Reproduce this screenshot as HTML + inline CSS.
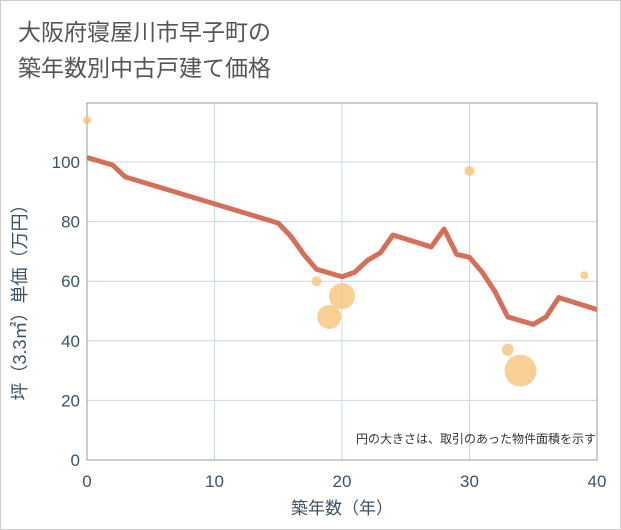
<!DOCTYPE html>
<html><head><meta charset="utf-8"><style>
body{margin:0;background:#fff;}
svg{display:block;font-family:"Liberation Sans","Noto Sans CJK JP",sans-serif;}
</style></head><body>
<svg id="c" width="621" height="530">
<rect x="0.5" y="0.5" width="620" height="529" fill="#fff" stroke="#ccc"/>
<text x="18" y="40" font-size="23" fill="#555">大阪府寝屋川市早子町の</text>
<text x="18" y="76" font-size="23" fill="#555">築年数別中古戸建て価格</text>
<g id="grid"></g>
<rect x="87" y="103" width="510" height="357" fill="none" stroke="#999"/>
<g id="marks"></g>
<g id="ticks"></g>
<text x="596" y="443" font-size="12" fill="#333" text-anchor="end">円の大きさは、取引のあった物件面積を示す</text>
<text x="342" y="514" font-size="17" fill="#3d5366" text-anchor="middle">築年数（年）</text>
<text transform="translate(26,298) rotate(-90)" font-size="18" fill="#3d5366" text-anchor="middle">坪（3.3㎡）単価（万円）</text>
</svg>
<script>
const lineYears=[0,2,3,15,16,17,18,20,21,22,23,24,27,28,29,30,31,32,33,35,36,37,40];
const linePrices=[101.5,99,95,79.5,75,69,64,61.5,63,67,69.5,75.5,71.5,77.5,69,68,63,56.5,48,45.5,48,54.5,50.5];
const bubbleYears=[0,18,19,20,30,33,34,39];
const bubblePrices=[114,60,48,55,97,37,30,62];
const bubbleSizes=[4,5,12,13,5,6,16,4];
const xTicks=[0,10,20,30,40];
const yTicks=[0,20,40,60,80,100];
const NS='http://www.w3.org/2000/svg';
const X=v=>87+v*12.75, Y=v=>460-v*2.98;
function mk(t,a,p){const e=document.createElementNS(NS,t);for(const k in a)e.setAttribute(k,a[k]);p.appendChild(e);return e;}
const g=document.getElementById('grid'),m=document.getElementById('marks'),tk=document.getElementById('ticks');
xTicks.forEach(v=>{const l=mk('line',{x1:X(v),x2:X(v),y1:103,y2:460,stroke:'#c8d8e8'},g);

const t=mk('text',{x:X(v),y:487,'font-size':17,fill:'#3d5366','text-anchor':'middle'},tk);t.textContent=v;
});
yTicks.forEach(v=>{const l=mk('line',{x1:87,x2:597,y1:Y(v),y2:Y(v),stroke:'#c8d8e8'},g);

const t=mk('text',{x:80,y:Y(v)+6,'font-size':17,fill:'#3d5366','text-anchor':'end'},tk);t.textContent=v;
});
bubbleYears.forEach((v,i)=>{const c=mk('circle',{cx:X(v),cy:Y(bubblePrices[i]),r:bubbleSizes[i],fill:'#f5c070','fill-opacity':0.75},m);
});
const p=mk('polyline',{points:lineYears.map((v,i)=>X(v)+','+Y(linePrices[i])).join(' '),fill:'none',stroke:'#d4705a','stroke-width':5,'stroke-linejoin':'round'},m);

</script>
</body></html>
